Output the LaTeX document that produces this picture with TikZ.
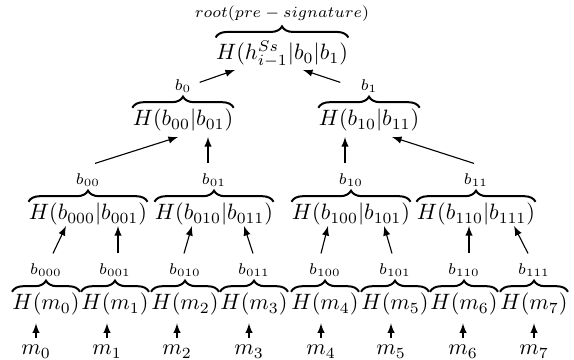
\documentclass[tikz,border=0pt]{standalone}
\usepackage{amsmath, amssymb}
\usepackage{tikz}
\usetikzlibrary{positioning, decorations.pathreplacing}

\begin{document}
\begin{tikzpicture}[x=0.45pt, y=0.45pt,
        hsh/.style={anchor=base, inner sep=0pt},
        lbl/.style={font=\scriptsize, inner sep=0pt},
        ovb/.style={decorate, decoration={brace, amplitude=5pt}, line width=0.9pt},
        arr/.style={-latex, line width=0.5pt}]
    \useasboundingbox (0,0) rectangle (574,360);

    % Messages
    \node[hsh] (m0) at (36,5)  {$m_0$};
    \node[hsh] (m1) at (107,5) {$m_1$};
    \node[hsh] (m2) at (177,5) {$m_2$};
    \node[hsh] (m3) at (249,5) {$m_3$};
    \node[hsh] (m4) at (321,5) {$m_4$};
    \node[hsh] (m5) at (391,5) {$m_5$};
    \node[hsh] (m6) at (463,5) {$m_6$};
    \node[hsh] (m7) at (534,5) {$m_7$};

    % Leaf hashes
    \node[hsh] (hm0) at (46,50)  {$H(m_0)$};
    \node[hsh] (hm1) at (115,50) {$H(m_1)$};
    \node[hsh] (hm2) at (185,50) {$H(m_2)$};
    \node[hsh] (hm3) at (254,50) {$H(m_3)$};
    \node[hsh] (hm4) at (325,50) {$H(m_4)$};
    \node[hsh] (hm5) at (395,50) {$H(m_5)$};
    \node[hsh] (hm6) at (464,50) {$H(m_6)$};
    \node[hsh] (hm7) at (534,50) {$H(m_7)$};

    % Second level
    \node[hsh] (hb00) at (88,140)  {$H(b_{000}|b_{001})$};
    \node[hsh] (hb01) at (214,140) {$H(b_{010}|b_{011})$};
    \node[hsh] (hb10) at (351,140) {$H(b_{100}|b_{101})$};
    \node[hsh] (hb11) at (476,140) {$H(b_{110}|b_{111})$};

    % First level
    \node[hsh] (hb0) at (183,234) {$H(b_{00}|b_{01})$};
    \node[hsh] (hb1) at (369,234) {$H(b_{10}|b_{11})$};

    % Root
    \node[hsh] (root) at (282,300) {$H(h^{Ss}_{i-1}|b_0|b_1)$};

    % Braces with their labels
    \draw[ovb] ([yshift=0.5pt]hm0.north west) -- ([yshift=0.5pt]hm0.north east);
    \draw[ovb] ([yshift=0.5pt]hm1.north west) -- ([yshift=0.5pt]hm1.north east);
    \draw[ovb] ([yshift=0.5pt]hm2.north west) -- ([yshift=0.5pt]hm2.north east);
    \draw[ovb] ([yshift=0.5pt]hm3.north west) -- ([yshift=0.5pt]hm3.north east);
    \draw[ovb] ([yshift=0.5pt]hm4.north west) -- ([yshift=0.5pt]hm4.north east);
    \draw[ovb] ([yshift=0.5pt]hm5.north west) -- ([yshift=0.5pt]hm5.north east);
    \draw[ovb] ([yshift=0.5pt]hm6.north west) -- ([yshift=0.5pt]hm6.north east);
    \draw[ovb] ([yshift=0.5pt]hm7.north west) -- ([yshift=0.5pt]hm7.north east);
    \node[lbl, above=7pt of hm0] (b000) {$b_{000}$};
    \node[lbl, above=7pt of hm1] (b001) {$b_{001}$};
    \node[lbl, above=7pt of hm2] (b010) {$b_{010}$};
    \node[lbl, above=7pt of hm3] (b011) {$b_{011}$};
    \node[lbl, above=7pt of hm4] (b100) {$b_{100}$};
    \node[lbl, above=7pt of hm5] (b101) {$b_{101}$};
    \node[lbl, above=7pt of hm6] (b110) {$b_{110}$};
    \node[lbl, above=7pt of hm7] (b111) {$b_{111}$};

    \draw[ovb] ([yshift=0.5pt]hb00.north west) -- ([yshift=0.5pt]hb00.north east);
    \draw[ovb] ([yshift=0.5pt]hb01.north west) -- ([yshift=0.5pt]hb01.north east);
    \draw[ovb] ([yshift=0.5pt]hb10.north west) -- ([yshift=0.5pt]hb10.north east);
    \draw[ovb] ([yshift=0.5pt]hb11.north west) -- ([yshift=0.5pt]hb11.north east);
    \node[lbl, above=7pt of hb00] (b00) {$b_{00}$};
    \node[lbl, above=7pt of hb01] (b01) {$b_{01}$};
    \node[lbl, above=7pt of hb10] (b10) {$b_{10}$};
    \node[lbl, above=7pt of hb11] (b11) {$b_{11}$};

    \draw[ovb] ([yshift=0.5pt]hb0.north west) -- ([yshift=0.5pt]hb0.north east);
    \draw[ovb] ([yshift=0.5pt]hb1.north west) -- ([yshift=0.5pt]hb1.north east);
    \node[lbl, above=7pt of hb0] (b0) {$b_0$};
    \node[lbl, above=7pt of hb1] (b1) {$b_1$};

    \draw[ovb] ([yshift=1.5pt]root.north west) -- ([yshift=1.5pt]root.north east);
    \node[lbl, above=8.7pt of root] (pre) {$root(pre-signature)$};

    % Messages into leaves
    \draw[arr, shorten <=3.3pt, shorten >=3.3pt] (m0.north) -- (m0.north |- hm0.south);
    \draw[arr, shorten <=3.3pt, shorten >=3.3pt] (m1.north) -- (m1.north |- hm1.south);
    \draw[arr, shorten <=3.3pt, shorten >=3.3pt] (m2.north) -- (m2.north |- hm2.south);
    \draw[arr, shorten <=3.3pt, shorten >=3.3pt] (m3.north) -- (m3.north |- hm3.south);
    \draw[arr, shorten <=3.3pt, shorten >=3.3pt] (m4.north) -- (m4.north |- hm4.south);
    \draw[arr, shorten <=3.3pt, shorten >=3.3pt] (m5.north) -- (m5.north |- hm5.south);
    \draw[arr, shorten <=3.3pt, shorten >=3.3pt] (m6.north) -- (m6.north |- hm6.south);
    \draw[arr, shorten <=3.3pt, shorten >=3.3pt] (m7.north) -- (m7.north |- hm7.south);

    % Leaves into second level
    \draw[arr] ([shift={(7,10)}]b000.north)  -- ([shift={(-22,-6)}]hb00.base);
    \draw[arr] ([shift={(3,10)}]b001.north)  -- ([shift={(30,-6)}]hb00.base);
    \draw[arr] ([shift={(-1,10)}]b010.north) -- ([shift={(-22,-6)}]hb01.base);
    \draw[arr] ([shift={(-1,10)}]b011.north) -- ([shift={(30,-6)}]hb01.base);
    \draw[arr] ([shift={(-4,10)}]b100.north) -- ([shift={(-23,-6)}]hb10.base);
    \draw[arr] ([shift={(-3,10)}]b101.north) -- ([shift={(33,-6)}]hb10.base);
    \draw[arr] ([shift={(5,10)}]b110.north)  -- ([shift={(-7,-6)}]hb11.base);
    \draw[arr] ([shift={(-6,10)}]b111.north) -- ([shift={(38,-6)}]hb11.base);

    % Second level into first level
    \draw[arr] ([shift={(7,10)}]b00.north)  -- ([shift={(-5,-11)}]hb0.base);
    \draw[arr] ([shift={(-6,10)}]b01.north) -- ([shift={(25,-11)}]hb0.base);
    \draw[arr] ([shift={(-6,10)}]b10.north) -- ([shift={(-24,-11)}]hb1.base);
    \draw[arr] ([shift={(-2,10)}]b11.north) -- ([shift={(23,-11)}]hb1.base);

    % First level into root
    \draw[arr] ([shift={(8,4)}]b0.east)   -- ([shift={(-47,-10)}]root.base);
    \draw[arr] ([shift={(-20,4)}]b1.west) -- ([shift={(21,-10)}]root.base);
\end{tikzpicture}
\end{document}
